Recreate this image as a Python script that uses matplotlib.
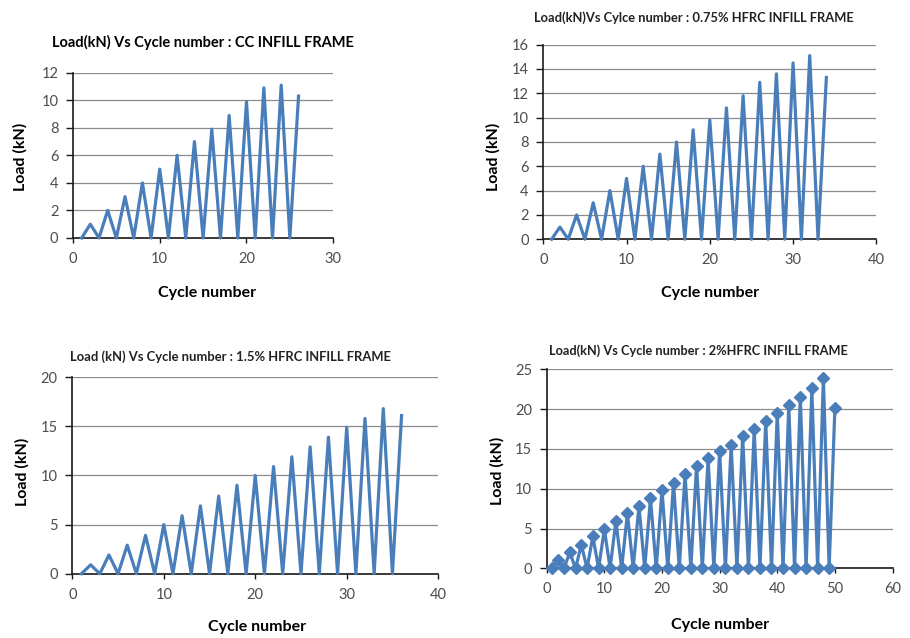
import numpy as np
import matplotlib.pyplot as plt

plt.rcParams["font.family"] = ["Lato", "DejaVu Sans"]

# CC infill frame
cc_cycle = list(range(1, 27))
cc_load = [0, 1, 0, 2, 0, 3, 0, 4, 0, 5, 0, 6, 0, 7, 0, 7.9, 0, 8.9, 0, 9.9,
           0, 10.9, 0, 11.1, 0, 10.3]

# 0.75% HFRC infill frame
h075_cycle = list(range(1, 35))
h075_load = [0, 1, 0, 2, 0, 3, 0, 4, 0, 5, 0, 6, 0, 7, 0, 8, 0, 9, 0, 9.8,
             0, 10.8, 0, 11.8, 0, 12.9, 0, 13.6, 0, 14.5, 0, 15.1, 0, 13.3]

# 1.5% HFRC infill frame
h15_cycle = list(range(1, 37))
h15_load = [0, 0.9, 0, 1.9, 0, 2.9, 0, 3.9, 0, 5, 0, 5.9, 0, 6.9, 0, 7.9,
            0, 9, 0, 10, 0, 10.9, 0, 11.9, 0, 12.9, 0, 13.9, 0, 14.9, 0, 15.8,
            0, 16.8, 0, 16.1]

# 2% HFRC infill frame
h2_cycle = list(range(1, 51))
h2_load = [0, 1.05, 0, 2, 0, 2.95, 0, 4, 0, 4.9, 0, 5.95, 0, 6.9, 0, 7.85,
           0, 8.8, 0, 9.85, 0, 10.7, 0, 11.8, 0, 12.85, 0, 13.8, 0, 14.75,
           0, 15.5, 0, 16.6, 0, 17.45, 0, 18.5, 0, 19.5, 0, 20.5, 0, 21.55,
           0, 22.6, 0, 23.95, 0, 20.1]

blue = "#4a7ebb"
tick_col = "#4d4d4d"

fig = plt.figure(figsize=(9.1, 6.38), dpi=100)

panels = [
    # rect, x, y, xlim, xticks, yticks, marker
    ([0.0802, 0.627, 0.286, 0.259], cc_cycle, cc_load, 30, np.arange(0, 31, 10), np.arange(0, 13, 2), None),
    ([0.597, 0.625, 0.366, 0.305], h075_cycle, h075_load, 40, np.arange(0, 41, 10), np.arange(0, 17, 2), None),
    ([0.0795, 0.1008, 0.402, 0.308], h15_cycle, h15_load, 40, np.arange(0, 41, 10), np.arange(0, 21, 5), None),
    ([0.6008, 0.1092, 0.380, 0.312], h2_cycle, h2_load, 60, np.arange(0, 61, 10), np.arange(0, 26, 5), "D"),
]

for rect, x, y, xmax, xt, yt, mk in panels:
    ax = fig.add_axes(rect)
    ax.plot(x, y, color=blue, linewidth=2.3, marker=mk, markersize=6,
            clip_on=False, zorder=3)
    ax.set_xlim(0, xmax)
    ax.set_ylim(0, yt[-1])
    ax.set_xticks(xt)
    ax.set_yticks(yt)
    ax.grid(axis="y", color="#8c8c8c", linewidth=0.9)
    ax.set_axisbelow(True)
    for s in ["top", "right"]:
        ax.spines[s].set_visible(False)
    for s in ["left", "bottom"]:
        ax.spines[s].set_color("#1a1a1a")
        ax.spines[s].set_linewidth(1.2)
    ax.tick_params(direction="out", width=1, colors="#1a1a1a",
                   labelcolor=tick_col, labelsize=10.5)
    ax.tick_params(axis="y", length=5, pad=5.5)
    ax.tick_params(axis="x", length=3.5, pad=6.5)

# titles
fig.text(0.223, 0.934, "Load(kN) Vs Cycle number : CC INFILL FRAME",
         ha="center", va="center", fontsize=10.5, fontweight="bold")
fig.text(0.762, 0.973, "Load(kN)Vs Cylce number : 0.75% HFRC INFILL FRAME",
         ha="center", va="center", fontsize=9.3, fontweight="bold", color="#222222")
fig.text(0.253, 0.4404, "Load (kN) Vs Cycle number : 1.5% HFRC INFILL FRAME",
         ha="center", va="center", fontsize=9.4, fontweight="bold", color="#222222")
fig.text(0.767, 0.4503, "Load(kN) Vs Cycle number : 2%HFRC INFILL FRAME",
         ha="center", va="center", fontsize=9.2, fontweight="bold", color="#222222")

# axis labels
for xc, yc in [(0.227, 0.541), (0.780, 0.541), (0.282, 0.017), (0.791, 0.0204)]:
    fig.text(xc, yc, "Cycle number", ha="center", va="center",
             fontsize=11.5, fontweight="bold")
for xc, yc in [(0.022, 0.754), (0.542, 0.754), (0.025, 0.260), (0.546, 0.262)]:
    fig.text(xc, yc, "Load (kN)", ha="center", va="center", rotation=90,
             fontsize=11.5, fontweight="bold")

fig.savefig("out.png", dpi=100)
